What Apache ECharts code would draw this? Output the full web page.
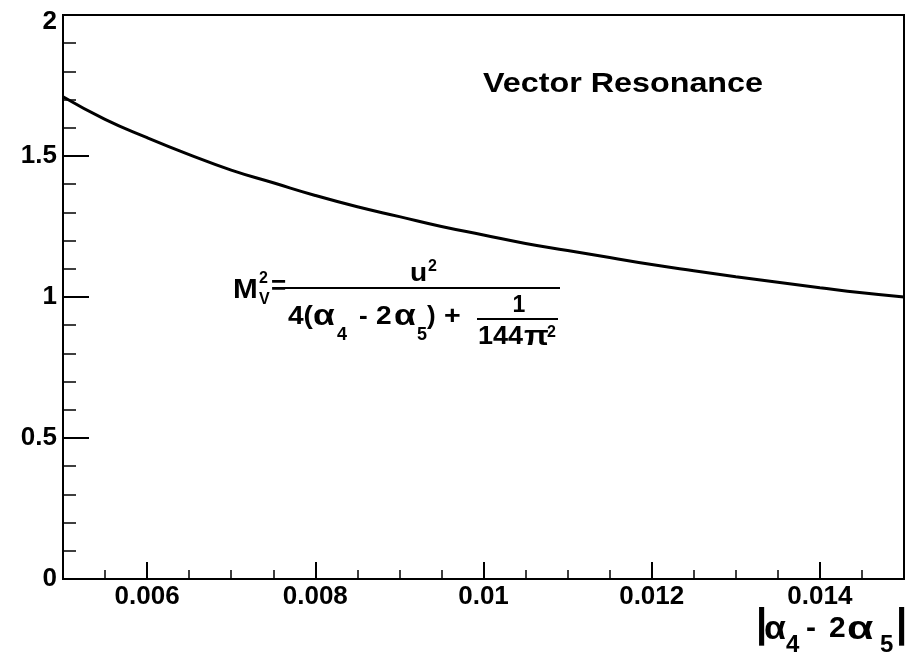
<!DOCTYPE html>
<html><head><meta charset="utf-8">
<script src="https://cdn.jsdelivr.net/npm/echarts@6/dist/echarts.min.js"></script>
<style>html,body{margin:0;padding:0;background:#fff}#c{width:914px;height:656px}</style>
</head><body><div id="c"></div>
<script>
// data
const alphaDiff = [0.005, 0.0055, 0.006, 0.0065, 0.007, 0.0075, 0.008, 0.0085, 0.009, 0.0095, 0.01,
                   0.0105, 0.011, 0.0115, 0.012, 0.0125, 0.013, 0.0135, 0.014, 0.0145, 0.015];
const massV = [1.71, 1.63, 1.565, 1.505, 1.45, 1.405, 1.36, 1.32, 1.285, 1.25, 1.22,
               1.19, 1.165, 1.14, 1.115, 1.093, 1.072, 1.052, 1.033, 1.015, 1.0];
const xMajorTicks = [0.006, 0.008, 0.01, 0.012, 0.014];
const xMinorTicks = [0.0055, 0.006, 0.0065, 0.007, 0.0075, 0.008, 0.0085, 0.009, 0.0095, 0.01,
                     0.0105, 0.011, 0.0115, 0.012, 0.0125, 0.013, 0.0135, 0.014, 0.0145];
const yTickStep = 0.5;
const titleText = 'Vector Resonance';

const FF = '"Liberation Sans", Arial, Helvetica, sans-serif';
const mctx = document.createElement('canvas').getContext('2d');
function txt(x, y, s, size, align, sx) {
  const e = {type: 'text', x: x, y: y, z: 10,
    style: {text: s, font: 'bold ' + size + 'px ' + FF, fill: '#000', align: align || 'left', verticalAlign: 'middle'}};
  if (sx) e.scaleX = sx;
  return e;
}
function fit(x, y, s, size, target) {
  mctx.font = 'bold ' + size + 'px ' + FF;
  const w = mctx.measureText(s).width;
  return txt(x, y, s, size, 'left', target / w);
}
function hline(x1, x2, y) {
  return {type: 'line', z: 10, shape: {x1: x1, y1: y, x2: x2, y2: y}, style: {stroke: '#000', lineWidth: 2}};
}

const chart = echarts.init(document.getElementById('c'), null, {renderer: 'canvas'});
chart.setOption({
  animation: false,
  backgroundColor: '#fff',
  grid: {left: 63, right: 10, top: 15, bottom: 77, show: true, borderColor: '#000', borderWidth: 2, backgroundColor: 'transparent'},
  xAxis: [{
    type: 'value', min: 0.005, max: 0.015, position: 'bottom',
    axisLine: {show: true, onZero: false, lineStyle: {color: '#000', width: 2}},
    axisTick: {show: true, inside: true, length: 17, customValues: xMajorTicks, lineStyle: {color: '#000', width: 2}},
    axisLabel: {show: true, customValues: xMajorTicks, margin: 5, fontSize: 26, fontWeight: 'bold', color: '#000', fontFamily: FF,
      formatter: function (v) { return String(v); }},
    splitLine: {show: false}
  }, {
    type: 'value', min: 0.005, max: 0.015, position: 'bottom',
    axisLine: {show: false},
    axisTick: {show: true, inside: true, length: 9, customValues: xMinorTicks, lineStyle: {color: '#000', width: 1.5}},
    axisLabel: {show: false},
    splitLine: {show: false}
  }],
  yAxis: {
    type: 'value', min: 0, max: 2, interval: yTickStep,
    axisLine: {show: true, onZero: false, lineStyle: {color: '#000', width: 2}},
    axisTick: {show: true, inside: true, length: 26, lineStyle: {color: '#000', width: 2}},
    minorTick: {show: true, splitNumber: 5, length: 13, lineStyle: {color: '#000', width: 1.5}},
    axisLabel: {margin: 6, fontSize: 26, fontWeight: 'bold', color: '#000', fontFamily: FF,
      formatter: function (v) { return v === 2 ? '{t|2}' : String(v); },
      rich: {t: {fontSize: 26, fontWeight: 'bold', color: '#000', fontFamily: FF, padding: [14, 0, 0, 0]}}},
    splitLine: {show: false},
    minorSplitLine: {show: false}
  },
  series: [{
    type: 'line', xAxisIndex: 0, data: alphaDiff.map((x, i) => [x, massV[i]]),
    showSymbol: false, smooth: true, lineStyle: {color: '#000', width: 3}, z: 5
  }],
  graphic: [
    fit(483, 84.5, titleText, 28, 280),
    // formula: M_V^2 = u^2 / (4(α4 - 2α5) + 1/(144π^2))
    txt(233, 290.5, 'M', 27, 'left', 1.1),
    txt(259, 278.5, '2', 16),
    txt(259, 299.5, 'V', 16),
    txt(271, 287, '=', 26),
    hline(285, 560, 288),
    txt(410, 274, 'u', 26, 'left', 1.08),
    txt(428, 267, '2', 16),
    txt(288, 316.5, '4(', 26, 'left', 1.08),
    txt(313, 316.5, 'α', 29, 'left', 1.22),
    txt(337, 335.5, '4', 18),
    txt(359, 316.5, '-', 26),
    txt(376, 316.5, '2', 26, 'left', 1.08),
    txt(394, 316.5, 'α', 29, 'left', 1.22),
    txt(417, 335.5, '5', 18),
    txt(427, 316.5, ')', 26),
    txt(444, 316.5, '+', 26, 'left', 1.1),
    txt(519, 306, '1', 23, 'center'),
    hline(477, 558, 319),
    txt(478, 337.5, '144', 25, 'left', 1.08),
    txt(524, 337.5, 'π', 27, 'left', 1.2),
    txt(547, 333, '2', 16),
    // x-axis title |α4 - 2α5|
    txt(756, 626, '|', 40),
    txt(764, 630, 'α', 33, 'left', 1.08),
    txt(786, 645, '4', 24),
    txt(806, 629, '-', 30),
    txt(829, 629, '2', 30),
    txt(847, 630, 'α', 33, 'left', 1.3),
    txt(880, 645, '5', 24),
    txt(896, 626, '|', 40)
  ]
});
</script></body></html>
